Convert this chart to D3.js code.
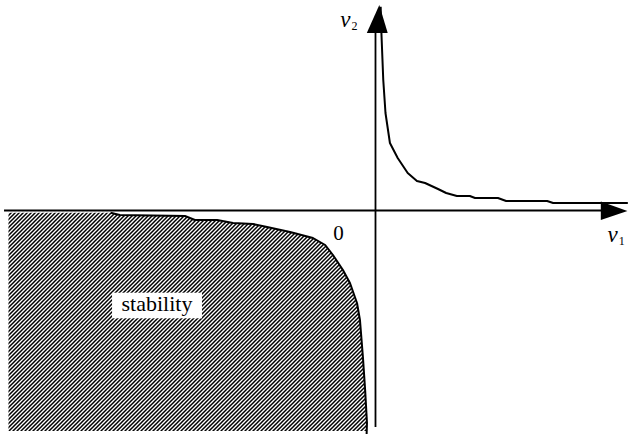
<!DOCTYPE html>
<html>
<head>
<meta charset="utf-8">
<script src="https://cdn.jsdelivr.net/npm/d3@7"></script>
<style>
  html, body { margin: 0; padding: 0; background: #fff; }
  svg { display: block; }
</style>
</head>
<body>
<svg id="chart" width="629" height="435"></svg>
<script>
// ---- data (v1, v2) ----
// lower-left branch: boundary of the stability region
const stabV1 = [-0.996, -0.716, -0.691, -0.515, -0.488, -0.428, -0.385, -0.331, -0.293, -0.231, -0.169, -0.136, -0.115, -0.088, -0.069, -0.050, -0.042, -0.034, -0.028, -0.023, -0.024];
const stabV2 = [-0.011, -0.011, -0.0225, -0.0275, -0.0475, -0.0475, -0.0625, -0.0675, -0.0825, -0.1075, -0.1375, -0.1725, -0.2225, -0.2975, -0.3625, -0.4625, -0.5475, -0.7325, -0.8975, -1.0625, -1.1175];
// upper-right branch
const upperV1 = [0.014, 0.016, 0.021, 0.027, 0.039, 0.060, 0.087, 0.112, 0.134, 0.169, 0.191, 0.220, 0.255, 0.269, 0.331, 0.353, 0.464, 0.480, 0.682];
const upperV2 = [1.019, 0.8875, 0.6525, 0.4875, 0.3375, 0.2625, 0.1875, 0.1475, 0.1375, 0.1075, 0.0875, 0.0725, 0.0725, 0.0625, 0.0625, 0.0475, 0.0475, 0.0375, 0.0375];
// text labels
const originLabel = "0";
const regionLabel = "stability";
const xAxisLabel = ["v", "1"];
const yAxisLabel = ["v", "2"];

const stab = stabV1.map((v, i) => [v, stabV2[i]]);
const upper = upperV1.map((v, i) => [v, upperV2[i]]);

// ---- scales ----
const x = d3.scaleLinear().domain([-1, 0.683]).range([5.5, 628.2]);
const y = d3.scaleLinear().domain([-1, 1]).range([410.5, 10.5]);

const svg = d3.select("#chart");
const defs = svg.append("defs");
const pat = defs.append("pattern")
  .attr("id", "hatch")
  .attr("patternUnits", "userSpaceOnUse")
  .attr("width", 4).attr("height", 4);
pat.append("rect").attr("width", 4).attr("height", 4).attr("fill", "#fff");
pat.append("path")
  .attr("d", "M0,4 L4,0 M-1,1 L1,-1 M3,5 L5,3")
  .attr("stroke", "#000").attr("stroke-width", 1.5);

const line = d3.line().x(d => x(d[0])).y(d => y(d[1]));

// hatched stability region: boundary curve closed down to the bottom and left edge
const regionBottom = -1.1025, regionLeft = -0.992;
const fillPts = stab.filter(d => d[1] >= regionBottom);
const last = fillPts[fillPts.length - 1];
const poly = [[regionLeft, stab[0][1]], ...fillPts, [last[0], regionBottom], [regionLeft, regionBottom]];
svg.append("path")
  .attr("d", line(poly) + "Z")
  .attr("fill", "url(#hatch)")
  .attr("stroke", "none");

// axes
const axisG = svg.append("g").attr("stroke", "#000").attr("stroke-width", 1.8).attr("fill", "none");
axisG.append("line")
  .attr("x1", x(-1.004)).attr("x2", x(0.612))
  .attr("y1", y(0)).attr("y2", y(0));
axisG.append("line")
  .attr("x1", x(0)).attr("x2", x(0))
  .attr("y1", y(-1.083)).attr("y2", y(0.89));
// arrow heads
svg.append("path")
  .attr("d", `M${x(0.609)},${y(0.045)} L${x(0.681)},${y(-0.002)} L${x(0.609)},${y(-0.048)} Z`)
  .attr("fill", "#000");
svg.append("path")
  .attr("d", `M${x(-0.0235)},${y(0.8875)} L${x(0.0103)},${y(1.0275)} L${x(0.033)},${y(0.8875)} Z`)
  .attr("fill", "#000");

// curves
svg.append("path")
  .attr("d", line(stab.filter(d => d[0] >= -0.72)))
  .attr("fill", "none").attr("stroke", "#000").attr("stroke-width", 2)
  .attr("stroke-linejoin", "round");
svg.append("path")
  .attr("d", line(upper))
  .attr("fill", "none").attr("stroke", "#000").attr("stroke-width", 2)
  .attr("stroke-linejoin", "round");

// labels
const serif = "'Liberation Serif', 'DejaVu Serif', serif";
svg.append("text")
  .attr("x", x(-0.1) ).attr("y", y(-0.147))
  .attr("text-anchor", "middle")
  .attr("font-family", serif).attr("font-size", 21)
  .text(originLabel);

const lbl = svg.append("g");
const bx0 = x(-0.712), bx1 = x(-0.469), by0 = y(-0.411), by1 = y(-0.539);
lbl.append("rect")
  .attr("x", bx0).attr("y", by0).attr("width", bx1 - bx0).attr("height", by1 - by0)
  .attr("fill", "#fff");
lbl.append("text")
  .attr("x", (bx0 + bx1) / 2).attr("y", y(-0.5))
  .attr("text-anchor", "middle")
  .attr("font-family", serif).attr("font-size", 22)
  .text(regionLabel);

function axisLabel(px, py, parts) {
  const t = svg.append("text")
    .attr("x", px).attr("y", py)
    .attr("font-family", serif).attr("font-size", 23);
  t.append("tspan").attr("font-style", "italic").text(parts[0]);
  t.append("tspan").attr("font-size", 12).attr("dx", 1).attr("dy", 3).text(parts[1]);
}
axisLabel(x(0.627), y(-0.158), xAxisLabel);
axisLabel(x(-0.095), y(0.917), yAxisLabel);
</script>
</body>
</html>
